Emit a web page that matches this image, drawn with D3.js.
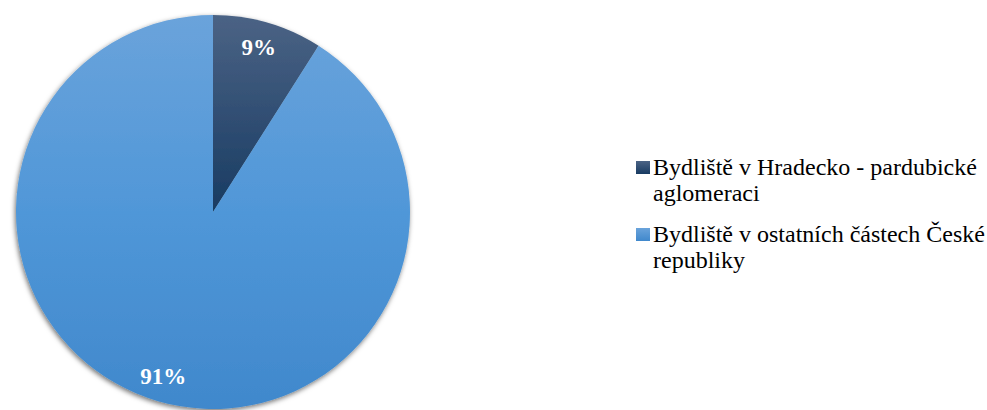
<!DOCTYPE html>
<html><head><meta charset="utf-8">
<script src="https://cdn.jsdelivr.net/npm/d3@7"></script>
<style>body{margin:0;background:#fff;}svg{display:block;}</style>
</head><body>
<script>
const categories = ["Bydliště v Hradecko - pardubické aglomeraci", "Bydliště v ostatních částech České republiky"];
const values = [9, 91];
const labels = ["9%", "91%"];
const legendLines = [["Bydliště v Hradecko - pardubické", "aglomeraci"], ["Bydliště v ostatních částech České", "republiky"]];

const W = 987, H = 410;
const svg = d3.select("body").append("svg").attr("width", W).attr("height", H);
const defs = svg.append("defs");
const cx = 213, cy = 212, r = 197;

const gDark = defs.append("linearGradient").attr("id","gDark").attr("gradientUnits","userSpaceOnUse")
  .attr("x1",0).attr("y1",-r).attr("x2",0).attr("y2",r);
gDark.append("stop").attr("offset","0%").attr("stop-color","#4b6385");
gDark.append("stop").attr("offset","50%").attr("stop-color","#183b62");
gDark.append("stop").attr("offset","100%").attr("stop-color","#0f2f55");
const gLight = defs.append("linearGradient").attr("id","gLight").attr("gradientUnits","userSpaceOnUse")
  .attr("x1",0).attr("y1",-r).attr("x2",0).attr("y2",r);
gLight.append("stop").attr("offset","0%").attr("stop-color","#6aa3db");
gLight.append("stop").attr("offset","50%").attr("stop-color","#5097d8");
gLight.append("stop").attr("offset","100%").attr("stop-color","#4088cc");

const lgDark = defs.append("linearGradient").attr("id","lgDark").attr("x1",0).attr("y1",0).attr("x2",0).attr("y2",1);
lgDark.append("stop").attr("offset","0%").attr("stop-color","#4b6385");
lgDark.append("stop").attr("offset","100%").attr("stop-color","#183b62");
const lgLight = defs.append("linearGradient").attr("id","lgLight").attr("x1",0).attr("y1",0).attr("x2",0).attr("y2",1);
lgLight.append("stop").attr("offset","0%").attr("stop-color","#6aa3db");
lgLight.append("stop").attr("offset","100%").attr("stop-color","#4088cc");

const f = defs.append("filter").attr("id","shadow").attr("x","-10%").attr("y","-10%").attr("width","120%").attr("height","120%");
f.append("feDropShadow").attr("dx",-1).attr("dy",2).attr("stdDeviation",2.5).attr("flood-color","#000").attr("flood-opacity",0.55);

const fills = ["url(#gDark)", "url(#gLight)"];
const legFills = ["url(#lgDark)", "url(#lgLight)"];

const pie = d3.pie().sort(null).value(d => d);
const arcs = pie(values);
const arc = d3.arc().innerRadius(0).outerRadius(r);

const gp = svg.append("g").attr("filter","url(#shadow)");
gp.selectAll("path").data(arcs).join("path")
  .attr("transform", `translate(${cx},${cy})`)
  .attr("d", arc)
  .attr("fill", (d,i) => fills[i]);

const lblArc = d3.arc().innerRadius(r*0.87).outerRadius(r*0.87);
svg.append("g").attr("transform", `translate(${cx},${cy})`).selectAll("text").data(arcs).join("text")
  .attr("x", d => lblArc.centroid(d)[0] - 2)
  .attr("y", d => lblArc.centroid(d)[1])
  .attr("text-anchor","middle").attr("dominant-baseline","central")
  .attr("font-family","'Liberation Serif','Times New Roman',serif")
  .attr("font-weight","bold").attr("font-size",23).attr("fill","#fff")
  .text((d,i) => labels[i]);

const leg = svg.append("g").attr("font-family","'Liberation Serif','Times New Roman',serif").attr("font-size",24).attr("fill","#000");
const legY = [175, 242];
categories.forEach((c,i) => {
  leg.append("rect").attr("x",636).attr("y",legY[i]-14).attr("width",14).attr("height",13).attr("fill",legFills[i]);
  const t = leg.append("text").attr("x",653).attr("y",legY[i]);
  legendLines[i].forEach((ln,j) => t.append("tspan").attr("x",653).attr("y",legY[i]+j*25.5).text(ln));
});
</script>
</body></html>
